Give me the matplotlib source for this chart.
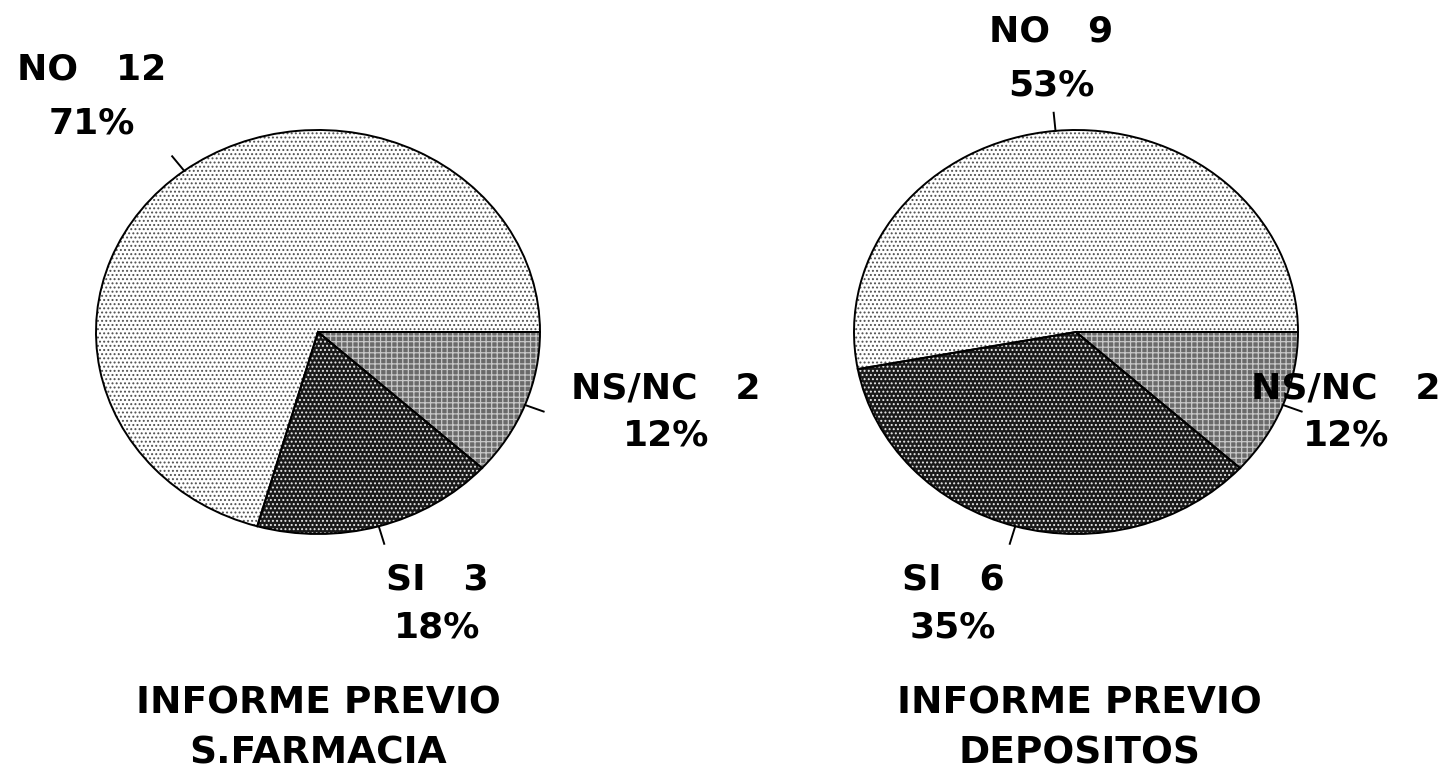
import numpy as np
import matplotlib
matplotlib.use('Agg')
import matplotlib.pyplot as plt

plt.rcParams['font.family'] = 'DejaVu Sans'
plt.rcParams['hatch.linewidth'] = 0.9

# data
categories = ['NS/NC', 'SI', 'NO']
farmacia = [2, 3, 12]
depositos = [2, 6, 9]
titles = ['INFORME PREVIO\nS.FARMACIA', 'INFORME PREVIO\nDEPOSITOS']

face = ['#6a6a6a', '#1a1a1a', '#ffffff']
hatch_col = ['#c8c8c8', '#e8e8e8', '#505050']
hatches = ['+++', '....', '....']

W, H = 1456, 777
fig = plt.figure(figsize=(W / 100, H / 100), dpi=100)

# pie centres (px from top-left) and radii in px
centers = [(318, 332), (1076, 332)]
rx, ry = 222, 202
lim = 1.4

# label placement (px): x centre, line 1 y, line 2 y for each category
label_pos = [
    {'NS/NC': (666, 388, 436), 'SI': (437, 580, 628), 'NO': (92, 70, 124)},
    {'NS/NC': (1346, 388, 436), 'SI': (953, 580, 628), 'NO': (1051, 32, 85)},
]
title_pos = [(318, 703, 753), (1079, 703, 753)]
gaps = {'NS/NC': '   ', 'SI': '   ', 'NO': '   '}


def fx(x):
    return x / W


def fy(y):
    return 1 - y / H


for k, counts in enumerate([farmacia, depositos]):
    cx, cy = centers[k]
    ax = fig.add_axes([fx(cx - lim * rx), fy(cy + lim * ry),
                       2 * lim * rx / W, 2 * lim * ry / H])
    wedges, _ = ax.pie(counts, startangle=0, counterclock=False,
                       colors=face, wedgeprops=dict(linewidth=0))
    for w, hc, hp in zip(wedges, hatch_col, hatches):
        w.set_hatch(hp)
        w.set_edgecolor(hc)
    # outlines
    ax.pie(counts, startangle=0, counterclock=False, colors=['none'] * 3,
           wedgeprops=dict(linewidth=1.4, edgecolor='black'))
    ax.set_aspect('auto')
    ax.set_xlim(-lim, lim)
    ax.set_ylim(-lim, lim)
    ax.axis('off')

    total = sum(counts)
    for w, cat, n in zip(wedges, categories, counts):
        mid = np.deg2rad((w.theta1 + w.theta2) / 2)
        ax.plot([np.cos(mid), 1.09 * np.cos(mid)],
                [np.sin(mid), 1.09 * np.sin(mid)], color='black', lw=1.4)
        px, y1, y2 = label_pos[k][cat]
        pct = round(100 * n / total)
        fig.text(fx(px), fy(y1), f'{cat}{gaps[cat]}{n}', ha='center',
                 va='center', fontsize=26, fontweight='bold')
        fig.text(fx(px), fy(y2), f'{pct}%', ha='center', va='center',
                 fontsize=26, fontweight='bold')

    tx, t1, t2 = title_pos[k]
    l1, l2 = titles[k].split('\n')
    fig.text(fx(tx), fy(t1), l1, ha='center', va='center', fontsize=27,
             fontweight='bold')
    fig.text(fx(tx), fy(t2), l2, ha='center', va='center', fontsize=27,
             fontweight='bold')

fig.savefig('out.png', dpi=100, facecolor='white')
